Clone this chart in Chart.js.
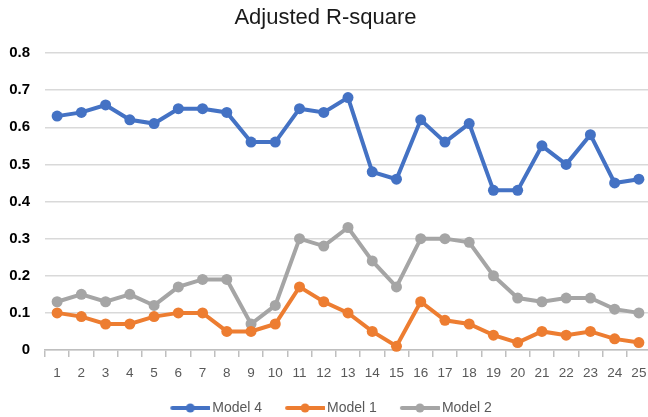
<!DOCTYPE html>
<html>
<head>
<meta charset="utf-8">
<script src="https://cdn.jsdelivr.net/npm/chart.js@4.4.1/dist/chart.umd.min.js"></script>
<style>
  html, body { margin: 0; padding: 0; background: #fff; overflow: hidden; }
  #wrap { position: relative; width: 651px; height: 417px; }
</style>
</head>
<body>
<div id="wrap"><canvas id="c"></canvas></div>
<script>
const categories = ['1','2','3','4','5','6','7','8','9','10','11','12','13','14','15','16','17','18','19','20','21','22','23','24','25'];
const model4 = [0.63,0.64,0.66,0.62,0.61,0.65,0.65,0.64,0.56,0.56,0.65,0.64,0.68,0.48,0.46,0.62,0.56,0.61,0.43,0.43,0.55,0.50,0.58,0.45,0.46];
const model1 = [0.10,0.09,0.07,0.07,0.09,0.10,0.10,0.05,0.05,0.07,0.17,0.13,0.10,0.05,0.01,0.13,0.08,0.07,0.04,0.02,0.05,0.04,0.05,0.03,0.02];
const model2 = [0.13,0.15,0.13,0.15,0.12,0.17,0.19,0.19,0.07,0.12,0.30,0.28,0.33,0.24,0.17,0.30,0.30,0.29,0.20,0.14,0.13,0.14,0.14,0.11,0.10];
const yTicks = [0,0.1,0.2,0.3,0.4,0.5,0.6,0.7,0.8];

// legend icon: line with a dot, drawn in the right part of a wider transparent image
function legendIcon(color) {
  const cv = document.createElement('canvas');
  cv.width = 56; cv.height = 12;
  const g = cv.getContext('2d');
  g.strokeStyle = color; g.lineWidth = 4; g.lineCap = 'round';
  g.beginPath(); g.moveTo(18, 6); g.lineTo(55, 6); g.stroke();
  g.fillStyle = color;
  g.beginPath(); g.arc(36, 6, 4.5, 0, Math.PI * 2); g.fill();
  return cv;
}

const series = [
  { label: 'Model 4', data: model4, color: '#4472C4' },
  { label: 'Model 1', data: model1, color: '#ED7D31' },
  { label: 'Model 2', data: model2, color: '#A5A5A5' }
];
const icons = series.map(s => legendIcon(s.color));

new Chart(document.getElementById('c'), {
  type: 'line',
  data: {
    labels: categories,
    datasets: series.map(s => ({
      label: s.label,
      data: s.data,
      borderColor: s.color,
      backgroundColor: s.color,
      borderWidth: 4,
      pointStyle: 'circle',
      pointRadius: 5.5,
      pointBackgroundColor: s.color,
      pointBorderColor: s.color,
      pointBorderWidth: 0,
      tension: 0,
      clip: false
    }))
  },
  options: {
    responsive: true,
    maintainAspectRatio: false,
    animation: false,
    layout: { autoPadding: false, padding: { left: 0, right: 0, top: 0, bottom: -8 } },
    plugins: {
      title: {
        display: true,
        text: 'Adjusted R-square',
        color: '#1a1a1a',
        font: { family: 'Liberation Sans', size: 22, weight: 'normal' },
        padding: { top: 5, bottom: 21.6 }
      },
      legend: {
        position: 'bottom',
        labels: {
          color: '#595959',
          font: { family: 'Liberation Sans', size: 14 },
          usePointStyle: true,
          pointStyleWidth: 46,
          padding: 12,
          generateLabels: (chart) => series.map((s, i) => ({
            text: s.label,
            fillStyle: s.color,
            strokeStyle: s.color,
            lineWidth: 0,
            pointStyle: icons[i],
            datasetIndex: i,
            hidden: false,
            fontColor: '#595959'
          }))
        }
      },
      tooltip: { enabled: false }
    },
    scales: {
      x: {
        offset: true,
        afterFit: (axis) => { axis.height = 39; axis.paddingRight = 0; axis.paddingLeft = 0; },
        grid: {
          display: true,
          offset: true,
          drawOnChartArea: false,
          drawTicks: true,
          tickLength: 7,
          color: '#BFBFBF',
          lineWidth: 1.5
        },
        border: { display: true, color: '#BFBFBF', width: 1.5 },
        ticks: {
          color: '#595959',
          font: { family: 'Liberation Sans', size: 13.5 },
          padding: 8,
          maxRotation: 0,
          autoSkip: false
        }
      },
      y: {
        min: 0,
        max: 0.8,
        afterFit: (axis) => { axis.width = 45; },
        afterBuildTicks: (axis) => { axis.ticks = yTicks.map(v => ({ value: v })); },
        grid: { color: '#D9D9D9', lineWidth: 1.5, drawTicks: false },
        border: { display: false },
        ticks: {
          color: '#000',
          font: { family: 'Liberation Sans', size: 15, weight: 'bold' },
          padding: 15,
          callback: (v) => (v === 0 ? '0' : v.toFixed(1))
        }
      }
    }
  }
});
</script>
</body>
</html>
